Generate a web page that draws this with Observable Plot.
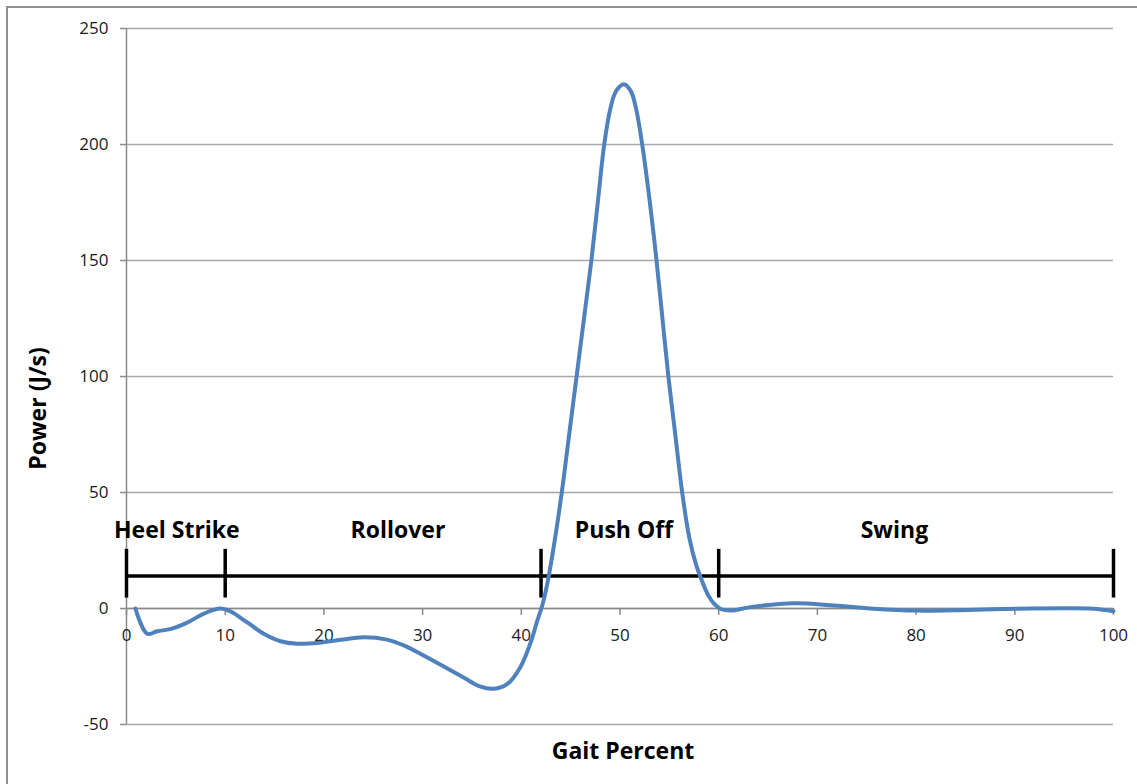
<!DOCTYPE html>
<html>
<head>
<meta charset="utf-8">
<script src="https://cdn.jsdelivr.net/npm/d3@7"></script>
<script src="https://cdn.jsdelivr.net/npm/@observablehq/plot@0.6"></script>
<style>
  html, body { margin: 0; padding: 0; background: #fff; overflow: hidden; }
  #wrap { position: relative; width: 1137px; height: 784px; }
  #border { position: absolute; left: 6px; top: 6px; width: 1300px; height: 1000px; border: 2px solid #8e8e8e; box-sizing: border-box; }
  #chart { position: absolute; left: 0; top: 0; }
</style>
</head>
<body>
<div id="wrap"><div id="border"></div><div id="chart"></div></div>
<script>
// ---- data ----
const gaitPercent = [0.9, 2.1, 3.1, 4.5, 6.1, 7.8, 9.5, 10.5, 12.2, 13.9, 15.6, 17.3, 19.5, 21.7, 24.0, 26.4, 28.1, 30.1, 32.1, 34.2, 35.8, 37.2, 38.6, 39.9, 41.0, 41.6, 42.1, 42.6, 43.3, 44.1, 44.85, 45.6, 46.35, 47.1, 47.75, 48.4, 49.0, 49.6, 50.4, 51.1, 51.6, 52.25, 53.0, 53.7, 54.3, 54.9, 55.6, 56.3, 57.0, 57.7, 58.3, 58.9, 59.5, 60.2, 61.2, 63.2, 67.6, 71.7, 75.7, 80.1, 85.2, 90.2, 95.3, 98, 100];
const power = [0, -10.9, -9.8, -8.8, -6.2, -2.3, 0, -1.2, -5.9, -10.9, -14.1, -15.2, -14.8, -13.5, -12.4, -13.4, -15.9, -20.3, -24.9, -29.9, -33.6, -34.6, -32.5, -25.3, -14, -5.5, 1, 10, 27, 50, 75, 100, 125, 150, 175, 200, 215, 223, 226, 223, 216, 200, 176, 150, 125, 100, 75, 50, 31, 19, 12, 6, 2.2, -0.2, -0.9, 0.6, 2.3, 1.3, -0.1, -0.9, -0.6, -0.1, 0.1, -0.1, -1.2];

const xTicks = [0, 10, 20, 30, 40, 50, 60, 70, 80, 90, 100];
const yTicks = [-50, 0, 50, 100, 150, 200, 250];

const phaseBounds = [0, 10, 42, 60, 100];
const phaseNames = ["Heel Strike", "Rollover", "Push Off", "Swing"];
const phaseLabelX = [5.1, 27.5, 50.4, 77.8];
const phaseBarY = 14;
const phaseTickLow = 4.5;
const phaseTickHigh = 25.5;
const phaseLabelY = 33.6;

const xTitle = "Gait Percent";
const yTitle = "Power (J/s)";

// ---- build ----
const series = gaitPercent.map((x, i) => ({x, y: power[i]}));
const phases = phaseNames.map((name, i) => ({name, x: phaseLabelX[i]}));

const font = "'Open Sans', 'DejaVu Sans', sans-serif";
const gridColor = "#a8a8a8";
const axisColor = "#8a8a8a";

const chart = Plot.plot({
  width: 1137,
  height: 784,
  marginTop: 28,
  marginBottom: 60,
  marginLeft: 126,
  marginRight: 24,
  style: {fontFamily: font, background: "transparent"},
  x: {domain: [0, 100], axis: null},
  y: {domain: [-50, 250], axis: null},
  marks: [
    // horizontal gridlines
    Plot.ruleY(yTicks, {y: d => d, x1: 0, x2: 100, stroke: gridColor, strokeWidth: 1.5}),
    // y axis line
    Plot.ruleX([0], {y1: -50, y2: 250, stroke: axisColor, strokeWidth: 1.5}),
    // y tick marks
    Plot.ruleY(yTicks, {y: d => d, x1: -0.6, x2: 0, stroke: axisColor, strokeWidth: 1.5}),
    // y tick labels
    Plot.text(yTicks, {x: 0, y: d => d, text: d => String(d), dx: -18, textAnchor: "end", fontSize: 17, fill: "#1a1a1a"}),
    // x axis at zero
    Plot.ruleY([0], {x1: 0, x2: 100, stroke: axisColor, strokeWidth: 1.5}),
    Plot.ruleX(xTicks, {x: d => d, y1: 0, y2: -3, stroke: axisColor, strokeWidth: 1.5}),
    Plot.text(xTicks, {x: d => d, y: 0, text: d => String(d), dy: 27, fontSize: 17, fill: "#1a1a1a"}),
    // phase bar
    Plot.ruleY([phaseBarY], {y: d => d, x1: phaseBounds[0], x2: phaseBounds[phaseBounds.length - 1], stroke: "#000", strokeWidth: 3.5}),
    Plot.ruleX(phaseBounds, {x: d => d, y1: phaseTickLow, y2: phaseTickHigh, stroke: "#000", strokeWidth: 3.5}),
    Plot.text(phases, {x: "x", y: phaseLabelY, text: "name", fontSize: 23, fontWeight: "bold", fill: "#000"}),
    // series line
    Plot.line(series, {x: "x", y: "y", curve: "catmull-rom", stroke: "#4f81bd", strokeWidth: 4, strokeLinejoin: "round", strokeLinecap: "round"}),
    // axis titles
    Plot.text([yTitle], {frameAnchor: "left", text: d => d, rotate: -90, dx: -88, dy: 32, textAnchor: "middle", lineAnchor: "middle", fontSize: 23, fontWeight: "bold", fill: "#000"}),
    Plot.text([xTitle], {frameAnchor: "bottom", text: d => d, dx: 3, dy: 27, textAnchor: "middle", lineAnchor: "middle", fontSize: 23, fontWeight: "bold", fill: "#000"})
  ]
});
document.getElementById("chart").appendChild(chart);
</script>
</body>
</html>
